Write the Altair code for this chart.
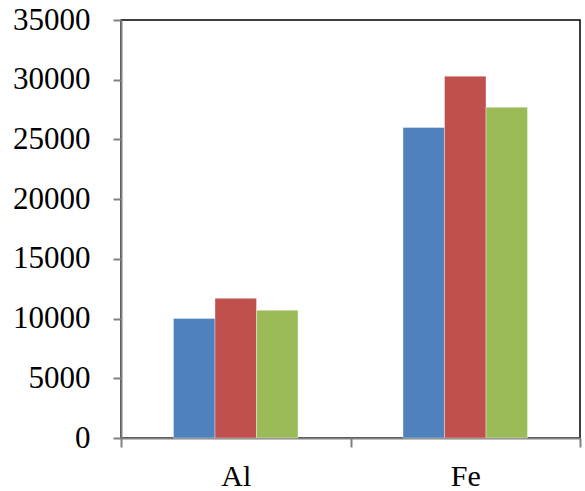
import altair as alt
import pandas as pd

# Element concentrations for three series
elements = ["Al", "Fe"]
series = ["s1", "s2", "s3"]
values_s1 = [10000, 26000]
values_s2 = [11700, 30300]
values_s3 = [10700, 27700]
colors = ["#4F81BD", "#C0504D", "#9BBB59"]
y_ticks = [0, 5000, 10000, 15000, 20000, 25000, 30000, 35000]

rows = []
for name, vals in zip(series, [values_s1, values_s2, values_s3]):
    for el, v in zip(elements, vals):
        rows.append({"element": el, "series": name, "value": v})
df = pd.DataFrame(rows)

font = "Liberation Serif"
plot_w = 459
band_w = plot_w / len(elements)
group_w = 124.5

bars = alt.Chart(df).mark_bar(stroke="white", strokeWidth=0.6, strokeOpacity=0.6).encode(
    x=alt.X(
        "element:N",
        sort=elements,
        scale=alt.Scale(paddingInner=0, paddingOuter=0),
        axis=alt.Axis(
            title=None,
            labelAngle=0,
            tickBand="extent",
            labelFont=font,
            labelFontSize=30,
            labelColor="black",
            labelPadding=14,
            domainColor="#808080",
            domainWidth=2,
            tickColor="#808080",
            tickWidth=2,
            tickSize=9,
        ),
    ),
    xOffset=alt.XOffset(
        "series:N",
        sort=series,
        scale=alt.Scale(
            paddingInner=0,
            paddingOuter=0,
            range=[(band_w - group_w) / 2, (band_w + group_w) / 2],
        ),
    ),
    y=alt.Y(
        "value:Q",
        scale=alt.Scale(domain=[0, 35000], nice=False),
        axis=alt.Axis(
            title=None,
            values=y_ticks,
            format="d",
            grid=False,
            labelFont=font,
            labelFontSize=31,
            labelColor="black",
            labelPadding=23,
            domainColor="#808080",
            domainWidth=2,
            tickColor="#808080",
            tickWidth=2,
            tickSize=8,
        ),
    ),
    color=alt.Color(
        "series:N",
        sort=series,
        scale=alt.Scale(domain=series, range=colors),
        legend=None,
    ),
)

chart = bars.properties(
    width=plot_w,
    height=418,
    autosize=alt.AutoSizeParams(type="none"),
    padding={"left": 121, "top": 20, "right": 5, "bottom": 53},
    background="white",
).configure_view(stroke="black", strokeWidth=1.5)

chart.save("out.html", embed_options={"renderer": "svg", "actions": False})
